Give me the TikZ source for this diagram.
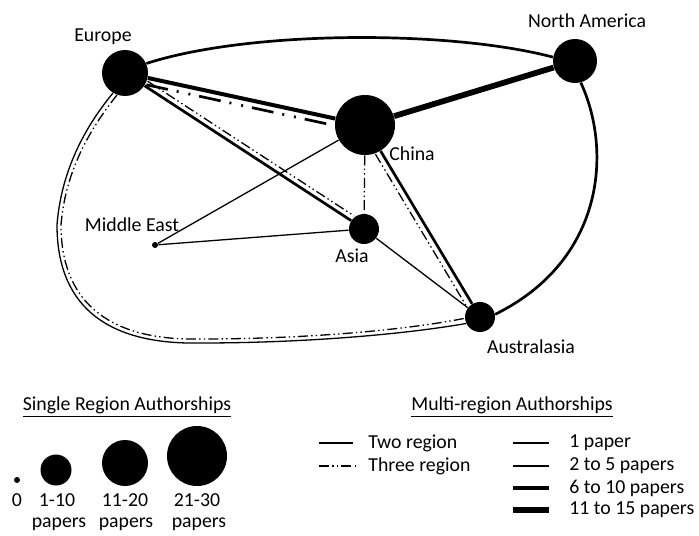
\documentclass[tikz,border=0pt]{standalone}
\usepackage{fontspec}
\setmainfont{Carlito}
\usetikzlibrary{calc}

\tikzset{
  region/.style={circle,fill=black,inner sep=0pt,minimum size=#1},
  lbl/.style={inner sep=0pt,font=\fontsize{9.9}{12}\selectfont},
  w1/.style={line width=0.65pt},
  w2/.style={line width=1.35pt},
  w3/.style={line width=2pt},
  w4/.style={line width=2.9pt},
  threereg/.style={dash pattern=on 5pt off 1.6pt on 0.7pt off 1.6pt on 0.7pt off 1.6pt},
  threeregbig/.style={dash pattern=on 11pt off 4.5pt on 1pt off 5pt on 1pt off 4.5pt},
}

\begin{document}
\begin{tikzpicture}[x=0.5pt,y=-0.5pt]

            \useasboundingbox (0,0) rectangle (699,535);

            % regions
            \node[region=23pt] (eu) at (125,73) {};
            \node[region=22pt] (na) at (575,61) {};
            \node[region=30pt] (cn) at (365,125) {};
            \node[region=15pt] (as) at (364,229) {};
            \node[region=15pt] (au) at (480,317) {};
            \node[region=3pt] (me) at (155,245) {};

            \node[lbl] (lbleu) at (103,37) {Europe};
            \node[lbl] (lblna) at (587,21) {North America};
            \node[lbl] (lblcn) at (412,154) {China};
            \node[lbl] (lblas) at (352,256) {Asia};
            \node[lbl] (lblau) at (531,347) {Australasia};
            \node[lbl] (lblme) at (132,225) {Middle East};

            % links
            \draw[w2] (eu.24) .. controls (250,30) and (450,30) .. (na.170);
            \draw[w3] (eu) -- (cn);
            \draw[w2,threeregbig,transform canvas={xshift=-0.75pt,yshift=-3.4pt}] (eu) -- (cn);
            \draw[w4] (cn) -- (na);
            \draw[w2] (eu) -- (as);
            \draw[w1,threereg,transform canvas={xshift=1.5pt,yshift=2.3pt}] (eu) -- (as);
            \draw[w2] (cn) -- (au);
            \draw[w1,threereg,transform canvas={xshift=-2.6pt,yshift=-1.55pt}] (cn) -- (au);
            \draw[w1,threereg] (cn) -- (as);
            \draw[w1] (cn) -- (me);
            \draw[w1] (me) -- (as);
            \draw[w1] (as) -- (au);
            \draw[w2] (na.285) .. controls (612,150) and (605,260) .. (au.10);

            \draw[w1] (eu.239) .. controls (95,115) and (62,160) .. (57,225)
              .. controls (57,300) and (100,345) .. (200,343)
              .. controls (300,343) and (400,335) .. (au.205);
            \draw[w1,threereg] (eu.250) .. controls (99,118) and (66,162) .. (61,225)
              .. controls (61,296) and (102,341) .. (200,339)
              .. controls (300,339) and (400,331) .. (au.185);

            % single region legend
            \node[lbl] (single) at (127,407) {\underline{Single Region Authorships}};
            \node[region=3pt] (s0) at (17,480) {};
            \node[region=15.5pt] (s1) at (56,470) {};
            \node[region=23pt] (s2) at (125,463) {};
            \node[region=30pt] (s3) at (197,456) {};
            \node[lbl] (t0) at (17,500) {0};
            \node[lbl] (t1) at (57,500) {1-10};
            \node[lbl] (t2) at (125,500) {11-20};
            \node[lbl] (t3) at (197,500) {21-30};
            \node[lbl] (p1) at (59,524) {papers};
            \node[lbl] (p2) at (126,524) {papers};
            \node[lbl] (p3) at (199,524) {papers};

            % multi region legend
            \node[lbl] (multi) at (512,407) {\underline{Multi-region Authorships}};
            \draw[w1] (319,443) -- (353,443);
            \node[lbl,anchor=west] (two) at (368,443) {Two region};
            \draw[w1,threereg] (319,466) -- (357,466);
            \node[lbl,anchor=west] (three) at (368,466) {Three region};
            \draw[w1] (513,443) -- (549,443);
            \node[lbl,anchor=west] (n1) at (569,443) {1 paper};
            \draw[w2] (513,466) -- (549,466);
            \node[lbl,anchor=west] (n2) at (569,466) {2 to 5 papers};
            \draw[w3] (513,488) -- (549,488);
            \node[lbl,anchor=west] (n3) at (569,488) {6 to 10 papers};
            \draw[w4] (513,510) -- (549,510);
            \node[lbl,anchor=west] (n4) at (569,510) {11 to 15 papers};

          \end{tikzpicture}
\end{document}
